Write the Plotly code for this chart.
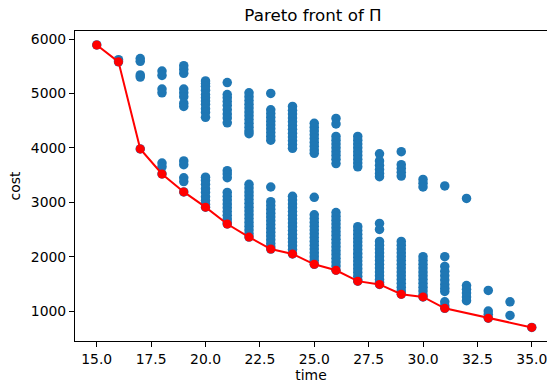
import plotly.graph_objects as go

# Blue candidate solutions: cost values for each integer time
cost_15 = [5890]
cost_16 = [5620, 5580]
cost_17 = [5640, 5590, 5340, 5300, 3980]
cost_18 = [5410, 5330, 5080, 5010, 3720, 3650, 3520]
cost_19 = [5510, 5440, 5370, 5080, 5010, 4940, 4820, 4760, 3760, 3690, 3450, 3380, 3190]
cost_20 = [5230, 5180, 5130, 5060, 4980, 4920, 4860, 4800, 4720, 4650, 4560,
           3460, 3400, 3330, 3250, 3180, 3100, 3030, 2960, 2910]
cost_21 = [5200, 4980, 4920, 4850, 4780, 4700, 4620, 4550, 4460,
           3580, 3520, 3450, 3180, 3110, 3040, 2970, 2900, 2830, 2760, 2690, 2630, 2600]
cost_22 = [5010, 4940, 4870, 4800, 4730, 4660, 4590, 4520, 4450, 4380, 4310, 4260,
           3330, 3260, 3190, 3120, 3050, 2980, 2910, 2840, 2770, 2700, 2630, 2560, 2490, 2420, 2360]
cost_23 = [5000, 4700, 4630, 4560, 4490, 4420, 4350, 4280, 4210, 4140,
           3280, 3010, 2940, 2870, 2800, 2730, 2660, 2590, 2520, 2450, 2380, 2310, 2240, 2180, 2140]
cost_24 = [4760, 4690, 4620, 4550, 4480, 4410, 4340, 4270, 4200, 4130, 4060, 3990,
           3110, 3040, 2970, 2900, 2830, 2760, 2690, 2620, 2550, 2480, 2410, 2340, 2270, 2200, 2130, 2050]
cost_25 = [4450, 4380, 4310, 4240, 4170, 4100, 4030, 3960, 3900,
           3090, 2770, 2700, 2630, 2560, 2490, 2420, 2350, 2280, 2210, 2140, 2070, 2000, 1930, 1860]
cost_26 = [4540, 4440, 4210, 4140, 4070, 4000, 3930, 3860, 3790, 3710,
           2810, 2740, 2670, 2600, 2530, 2460, 2390, 2320, 2250, 2180, 2110, 2040, 1970, 1900, 1830, 1750]
cost_27 = [4210, 4140, 4070, 4000, 3930, 3860, 3790, 3720, 3650,
           2550, 2480, 2410, 2340, 2270, 2200, 2130, 2060, 1990, 1920, 1850, 1780, 1710, 1640, 1570, 1550]
cost_28 = [3890, 3760, 3680, 3600, 3530, 3470,
           2610, 2500, 2280, 2210, 2140, 2070, 2000, 1930, 1860, 1790, 1720, 1650, 1580, 1530, 1490]
cost_29 = [3930, 3690, 3620, 3550, 3480,
           2280, 2210, 2140, 2070, 2000, 1930, 1860, 1790, 1720, 1650, 1580, 1510, 1440, 1370, 1310]
cost_30 = [3420, 3350, 3280,
           2000, 1930, 1860, 1790, 1720, 1650, 1580, 1510, 1440, 1370, 1300, 1260]
cost_31 = [3300, 2000, 1820, 1730, 1650, 1570, 1490, 1420, 1360, 1170, 1100, 1050]
cost_32 = [3070, 1470, 1400, 1330, 1260, 1190]
cost_33 = [1380, 1000, 940, 870]
cost_34 = [1170, 920]
cost_35 = [700]

times = list(range(15, 36))
costs_per_time = [cost_15, cost_16, cost_17, cost_18, cost_19, cost_20, cost_21,
                  cost_22, cost_23, cost_24, cost_25, cost_26, cost_27, cost_28,
                  cost_29, cost_30, cost_31, cost_32, cost_33, cost_34, cost_35]

# Pareto front (red)
front_time = [15, 16, 17, 18, 19, 20, 21, 22, 23, 24, 25, 26, 27, 28, 29, 30, 31, 33, 35]
front_cost = [5890, 5580, 3980, 3520, 3190, 2910, 2600, 2360, 2140, 2050, 1860, 1750,
              1550, 1490, 1310, 1260, 1050, 870, 700]

x_ticks = [15.0, 17.5, 20.0, 22.5, 25.0, 27.5, 30.0, 32.5, 35.0]
y_ticks = [1000, 2000, 3000, 4000, 5000, 6000]

bx, by = [], []
for t, cs in zip(times, costs_per_time):
    for c in cs:
        bx.append(t)
        by.append(c)

FONT = "DejaVu Sans"
fig = go.Figure()
fig.add_trace(go.Scatter(x=bx, y=by, mode="markers",
                         marker=dict(color="#1f77b4", size=9.5, line=dict(width=0)),
                         showlegend=False, hoverinfo="skip"))
fig.add_trace(go.Scatter(x=front_time, y=front_cost, mode="lines+markers",
                         line=dict(color="#ff0000", width=2),
                         marker=dict(color="#ff0000", size=9, line=dict(width=0)),
                         showlegend=False))

axis_common = dict(showline=True, linecolor="black", linewidth=1, ticks="outside",
                   ticklen=5, tickwidth=1, tickcolor="black", showgrid=False,
                   zeroline=False, automargin=False, ticklabeloverflow="allow",
                   tickfont=dict(family=FONT, size=13.9, color="black"))

fig.update_layout(
    width=547, height=385,
    margin=dict(l=75, r=0, t=31, b=44),
    paper_bgcolor="white", plot_bgcolor="white",
    title=dict(text="Pareto front of Π", x=313 / 547, xref="container", xanchor="center",
               y=1 - 15 / 385, yref="container", yanchor="middle", automargin=False,
               font=dict(family=FONT, size=16.7, color="black")),
    xaxis=dict(range=[14, 35.7], tickvals=x_ticks, ticktext=[f"{v:.1f}" for v in x_ticks],
               mirror=True,
               title=dict(text="time", standoff=2, font=dict(family=FONT, size=13.9, color="black")),
               **axis_common),
    yaxis=dict(range=[450, 6147], tickvals=y_ticks, ticktext=[str(v) for v in y_ticks],
               title=dict(text="cost", standoff=6, font=dict(family=FONT, size=13.9, color="black")),
               **axis_common),
)

fig.write_html("out.html", config={"displayModeBar": False},
               post_script="document.body.style.margin='0';document.body.style.overflow='hidden';")
